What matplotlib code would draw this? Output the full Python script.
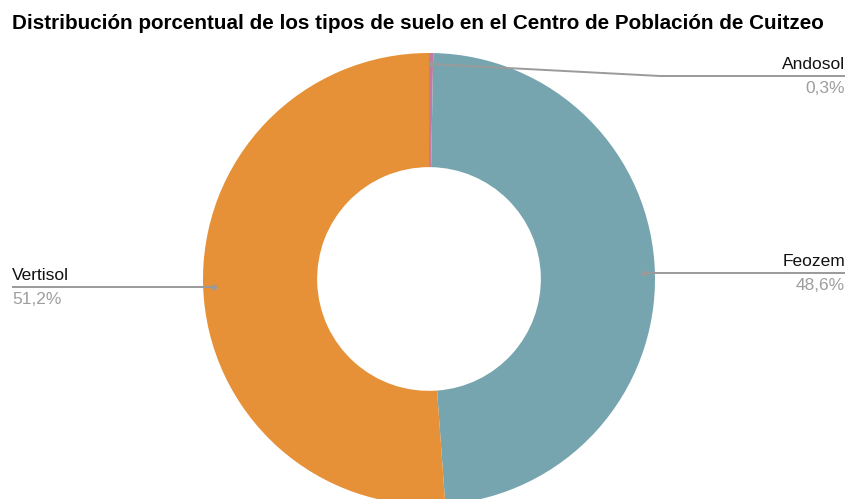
import numpy as np
import matplotlib

matplotlib.use("Agg")
import matplotlib.pyplot as plt

title = "Distribución porcentual de los tipos de suelo en el Centro de Población de Cuitzeo"
labels = ["Andosol", "Feozem", "Vertisol"]
values = [0.3, 48.6, 51.2]
pct_text = ["0,3%", "48,6%", "51,2%"]
colors = ["#C27BA0", "#76A5AF", "#E69138"]

W, H = 849, 499
plt.rcParams["font.family"] = ["Liberation Sans", "DejaVu Sans"]

fig = plt.figure(figsize=(W / 100, H / 100), dpi=100)
ax = fig.add_axes([0, 0, 1, 1])

cx, cy, r = 429, H - 279, 226
ax.pie(values, colors=colors, startangle=90, counterclock=False,
       center=(cx, cy), radius=r,
       wedgeprops=dict(width=r * 0.505, linewidth=0))
ax.set_xlim(0, W)
ax.set_ylim(0, H)
ax.set_aspect("equal")
ax.axis("off")

# leader lines: anchor dot at mid-angle of each wedge
fracs = np.array(values) / sum(values)
mids = (np.cumsum(fracs) - fracs / 2) * 2 * np.pi  # clockwise from top
line_gray = "#9a9a9a"
text_kw = dict(fontsize=12.5, color="#111111")
pct_kw = dict(fontsize=12.5, color="#9e9e9e")
for i, (lab, pct, a) in enumerate(zip(labels, pct_text, mids)):
    dx = cx + 215 * np.sin(a)
    dy = cy + 215 * np.cos(a)
    if i == 0:
        ly = H - 76
        xs, ys = [dx, 660, 845], [dy, ly, ly]
        tx, ha = 845, "right"
    elif np.sin(a) > 0:
        ly = dy
        xs, ys = [dx, 845], [ly, ly]
        tx, ha = 845, "right"
    else:
        ly = dy
        xs, ys = [dx, 12], [ly, ly]
        tx, ha = 12, "left"
    ax.plot(xs, ys, color=line_gray, lw=1.4, solid_capstyle="butt")
    ax.plot([dx], [dy], "o", color=line_gray, markersize=4, mec="none")
    ax.text(tx, ly + 4, lab, ha=ha, va="bottom", **text_kw)
    ax.text(tx, ly - 5, pct, ha=ha, va="top", **pct_kw)

fig.text(12 / W, 1 - 29 / H, title, fontsize=14.9, fontweight="bold",
         ha="left", va="baseline", color="#000000")

fig.savefig("out.png", dpi=100)
